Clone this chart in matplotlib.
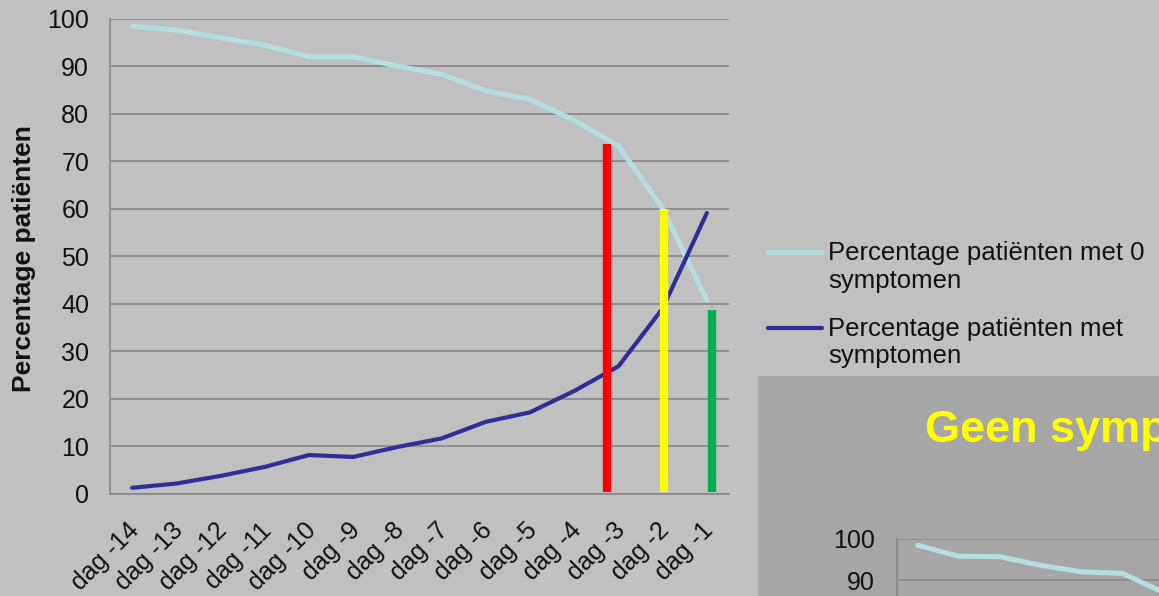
import matplotlib
matplotlib.use("Agg")
import matplotlib.pyplot as plt
from matplotlib.lines import Line2D
from matplotlib.patches import Rectangle
from matplotlib.transforms import ScaledTranslation

plt.rcParams['font.family'] = ['Liberation Sans', 'DejaVu Sans']

# data
days = ['dag -14', 'dag -13', 'dag -12', 'dag -11', 'dag -10', 'dag -9', 'dag -8',
        'dag -7', 'dag -6', 'dag -5', 'dag -4', 'dag -3', 'dag -2', 'dag -1']
zero_symptoms = [98.4, 97.6, 96.0, 94.4, 92.0, 92.0, 90.0,
                 88.3, 84.8, 83.0, 78.6, 73.2, 60.0, 40.7]
with_symptoms = [1.2, 2.1, 3.7, 5.6, 8.1, 7.7, 9.8,
                 11.6, 15.1, 17.1, 21.6, 26.8, 39.0, 59.1]
label_zero = 'Percentage patiënten met 0\nsymptomen'
label_with = 'Percentage patiënten met\nsymptomen'

# coloured marker bars (position on category axis, top value)
marker_x = [10.74, 12.03, 13.12]
marker_top = [73.6, 60.0, 38.6]
marker_colors = ['#ff0000', '#ffff00', '#00b050']

# second (cut-off) chart on the next part of the slide
inset_values = [98.5, 95.8, 95.7, 93.6, 92.0, 91.6, 87.0]

BG = '#c0c0c0'
PANEL = '#a6a6a6'
CYAN = '#b4dfe2'
NAVY = '#2e2e96'
GRID = '#878787'
INK = '#111111'

fig = plt.figure(figsize=(11.59, 5.96), dpi=100, facecolor=BG)

ax = fig.add_axes([110 / 1159, 102.5 / 596, 619 / 1159, 474.8 / 596])
ax.set_facecolor(BG)
x = range(len(days))
ax.plot(x, zero_symptoms, color=CYAN, lw=3.6, solid_capstyle='round', zorder=3)
ax.plot(x, with_symptoms, color=NAVY, lw=3.0, solid_capstyle='round', zorder=3)
ax.vlines(marker_x, 0.4, marker_top, colors=marker_colors, lw=6, zorder=4)

ax.set_xlim(-0.5, len(days) - 0.5)
ax.set_ylim(0, 100)
ax.set_yticks(range(0, 101, 10))
ax.set_xticks(list(x))
ax.set_xticklabels(days, rotation=45, ha='right', va='center', rotation_mode='anchor',
                   fontsize=18)
ax.tick_params(axis='both', length=0, colors=INK)
ax.tick_params(axis='y', labelsize=18, pad=15)
ax.tick_params(axis='x', pad=24)
shift = ScaledTranslation(3 / 100, 0, fig.dpi_scale_trans)
for lbl in ax.get_xticklabels():
    lbl.set_transform(lbl.get_transform() + shift)
ax.grid(axis='y', color=GRID, lw=1.2)
ax.set_axisbelow(True)
for s in ['top', 'right']:
    ax.spines[s].set_visible(False)
for s in ['left', 'bottom']:
    ax.spines[s].set_color(GRID)
    ax.spines[s].set_linewidth(1.2)

fig.text(24 / 1159, 1 - 259 / 596, 'Percentage patiënten', rotation=90, ha='center',
         va='center', fontsize=19, fontweight='bold', color=INK)

# legend, drawn by hand so the handle lines up with the first text line
for yy, col, lw, lab in [(251.7, CYAN, 3.6, label_zero), (327.7, NAVY, 3.0, label_with)]:
    yf = 1 - yy / 596
    fig.add_artist(Line2D([768 / 1159, 822 / 1159], [yf, yf], color=col, lw=lw,
                          solid_capstyle='round'))
    fig.text(828 / 1159, yf + 11 / 596, lab, ha='left', va='top', fontsize=18.5,
             color=INK, linespacing=1.2)

# darker panel with the next chart, cut off at the figure edge
fig.add_artist(Rectangle((758 / 1159, 0), 1, 1 - 376 / 596, transform=fig.transFigure,
                         facecolor=PANEL, edgecolor='none', zorder=0))
fig.text(925 / 1159, 1 - 442 / 596, 'Geen symptomen', color='#ffff00', fontsize=32.5,
         fontweight='bold', ha='left', va='baseline')

ax2 = fig.add_axes([897 / 1159, 57 / 596 - 410 / 596, 574 / 1159, 410 / 596])
ax2.set_facecolor(PANEL)
ax2.plot(range(len(inset_values)), inset_values, color=CYAN, lw=3.6,
         solid_capstyle='round', zorder=3)
ax2.set_xlim(-0.5, 13.5)
ax2.set_ylim(0, 100)
inset_ticks = list(range(0, 101, 10))
ax2.set_yticks(inset_ticks, labels=[str(t) if t >= 90 else '' for t in inset_ticks])
ax2.set_xticks([])
ax2.tick_params(axis='y', length=0, labelsize=18, colors=INK, pad=16)
ax2.grid(axis='y', color=GRID, lw=1.2)
ax2.set_axisbelow(True)
for s in ['top', 'right', 'bottom']:
    ax2.spines[s].set_visible(False)
ax2.spines['left'].set_color(GRID)
ax2.spines['left'].set_linewidth(1.2)

fig.savefig('out.png', dpi=100, facecolor=BG)
